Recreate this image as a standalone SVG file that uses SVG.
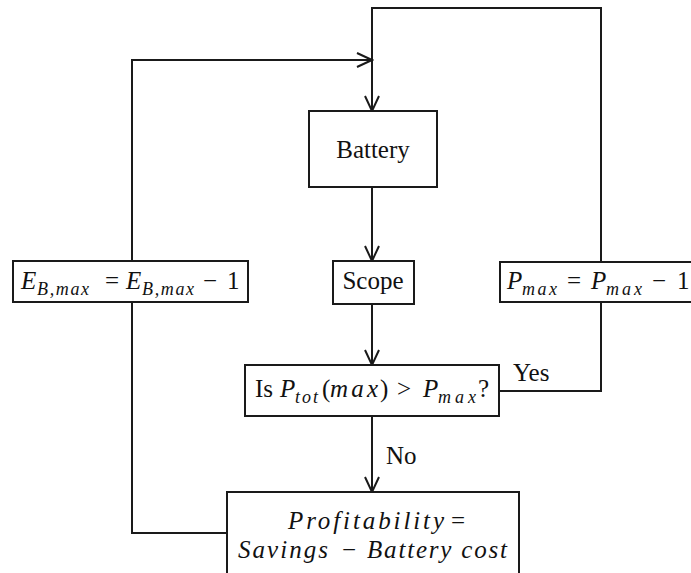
<svg xmlns="http://www.w3.org/2000/svg" width="691" height="573" viewBox="0 0 691 573">
<style>
.box{fill:#fff;stroke:#1a1a1a;stroke-width:2}
.ln{fill:none;stroke:#1a1a1a;stroke-width:2}
.t{font-family:'Liberation Serif','Times New Roman',serif;font-size:25px;fill:#111}
.i{font-style:italic}
.s{font-size:18px}
</style>
<defs>
<marker id="ah" markerUnits="userSpaceOnUse" markerWidth="18" markerHeight="18" refX="15" refY="7" orient="auto" viewBox="-1 -1 18 16">
<path d="M0,0 L15,7 L0,14" fill="none" stroke="#1a1a1a" stroke-width="2"/>
</marker>
</defs>
<rect width="691" height="573" fill="#fff"/>
<g id="connectors">
<polyline class="ln" points="499,391 601,391 601,8 372,8 372,111" marker-end="url(#ah)"/>
<polyline class="ln" points="227,533 132,533 132,60 372,60" marker-end="url(#ah)"/>
<line class="ln" x1="372" y1="187" x2="372" y2="261" marker-end="url(#ah)"/>
<line class="ln" x1="372" y1="304" x2="372" y2="365" marker-end="url(#ah)"/>
<line class="ln" x1="372" y1="416" x2="372" y2="492" marker-end="url(#ah)"/>
<text class="t" x="513" y="381">Yes</text>
<text class="t" x="386" y="464">No</text>
</g>
<g id="battery">
<rect class="box" x="309" y="111" width="128" height="76"/>
<text class="t" x="373" y="158" text-anchor="middle">Battery</text>
</g>
<g id="scope">
<rect class="box" x="333" y="261" width="81" height="43"/>
<text class="t" x="373" y="289" text-anchor="middle">Scope</text>
</g>
<g id="eb">
<rect class="box" x="13" y="261" width="235" height="41"/>
<text class="t" y="289"><tspan x="21" class="i">E</tspan><tspan x="37" y="295" class="i s" textLength="52">B,max</tspan><tspan x="105" y="289">=</tspan><tspan x="126" class="i">E</tspan><tspan x="142" y="295" class="i s" textLength="52">B,max</tspan><tspan x="203" y="289">−</tspan><tspan x="227">1</tspan></text>
</g>
<g id="pmax">
<rect class="box" x="500" y="262" width="200" height="40"/>
<text class="t" y="289"><tspan x="507" class="i">P</tspan><tspan x="522" y="295" class="i s" textLength="35">max</tspan><tspan x="567" y="289">=</tspan><tspan x="591" class="i">P</tspan><tspan x="606" y="295" class="i s" textLength="36">max</tspan><tspan x="652" y="289">−</tspan><tspan x="677">1</tspan></text>
</g>
<g id="decision">
<rect class="box" x="245" y="365" width="254" height="51"/>
<text class="t" y="397"><tspan x="255">Is</tspan><tspan x="280" class="i">P</tspan><tspan x="295" y="403" class="i s" textLength="23">tot</tspan><tspan x="322" y="397">(</tspan><tspan x="330" class="i" textLength="48">max</tspan><tspan x="380">)</tspan><tspan x="397">&gt;</tspan><tspan x="423" class="i">P</tspan><tspan x="438" y="403" class="i s" textLength="38">max</tspan><tspan x="478" y="397">?</tspan></text>
</g>
<g id="profitability">
<rect class="box" x="227" y="492" width="292" height="90"/>
<text class="t i" y="529"><tspan x="288" textLength="156">Profitability</tspan><tspan x="451" font-style="normal">=</tspan></text>
<text class="t i" y="558"><tspan x="238" textLength="90">Savings</tspan><tspan x="342" font-style="normal">−</tspan><tspan x="367" textLength="140">Battery cost</tspan></text>
</g>
</svg>
